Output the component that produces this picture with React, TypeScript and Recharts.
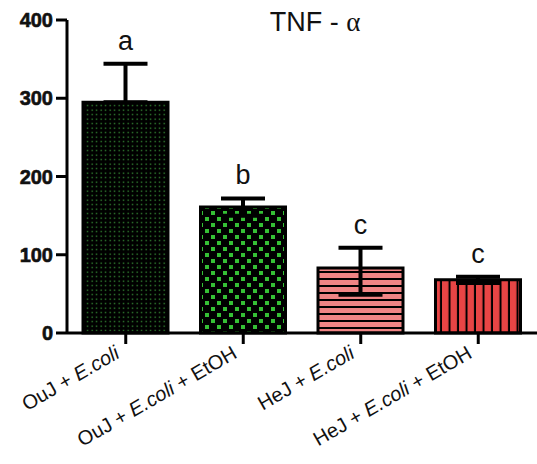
import { BarChart, Bar, XAxis, YAxis, Cell, ErrorBar, LabelList } from "recharts";

const NAMES = ["OuJ + E.coli", "OuJ + E.coli + EtOH", "HeJ + E.coli", "HeJ + E.coli + EtOH"];
const MEANS = [295, 161, 83, 68];
const ERR_LOW = [0, 11, 34, 4];
const ERR_HIGH = [49, 11, 26, 4];
const LETTERS = ["a", "b", "c", "c"];
const Y_TICKS = [0, 100, 200, 300, 400];
const FILLS = ["url(#pat-dots)", "url(#pat-checks)", "url(#pat-hlines)", "url(#pat-vlines)"];

const FONT = "'Liberation Sans', Arial, sans-serif";

const data = NAMES.map((name, i) => ({
  name,
  value: MEANS[i],
  err: [ERR_LOW[i], ERR_HIGH[i]],
}));

const XTick = (props: any) => {
  const { x, y, payload } = props;
  const parts = String(payload.value).split("E.coli");
  return (
    <g transform={`translate(${x - 5},${y + 11})`}>
      <text
        transform="rotate(-30)"
        textAnchor="end"
        fontSize={20}
        fontFamily={FONT}
        fill="#111"
      >
        <tspan>{parts[0]}</tspan>
        <tspan fontStyle="italic">E.coli</tspan>
        <tspan>{parts[1]}</tspan>
      </text>
    </g>
  );
};

const Letter = (props: any) => {
  const { x, y, width, height, value, index } = props;
  const capY = y - (ERR_HIGH[index] * height) / value;
  return (
    <text
      x={x + width / 2}
      y={capY - 14}
      textAnchor="middle"
      fontSize={27}
      fontFamily={FONT}
      fill="#111"
    >
      {LETTERS[index]}
    </text>
  );
};

export default function App() {
  return (
    <div style={{ position: "absolute", left: 0, top: 0, width: 537, height: 464, background: "#fff" }}>
      <svg width={0} height={0} style={{ position: "absolute" }}>
        <defs>
          <pattern id="pat-dots" patternUnits="userSpaceOnUse" width={4.5} height={4.5}>
            <rect width={4.5} height={4.5} fill="#000" />
            <rect x={1.5} y={1.5} width={1.3} height={1.3} fill="#3a9a3a" />
          </pattern>
          <pattern id="pat-checks" patternUnits="userSpaceOnUse" width={12} height={12}>
            <rect width={12} height={12} fill="#000" />
            <rect x={1} y={1} width={4} height={4} fill="#35c035" />
            <rect x={7} y={7} width={4} height={4} fill="#35c035" />
          </pattern>
          <pattern id="pat-hlines" patternUnits="userSpaceOnUse" width={10} height={7}>
            <rect width={10} height={7} fill="#f08585" />
            <rect y={5} width={10} height={2} fill="#000" />
          </pattern>
          <pattern id="pat-vlines" patternUnits="userSpaceOnUse" width={8.5} height={10}>
            <rect width={8.5} height={10} fill="#e84545" />
            <rect x={6.5} width={2} height={10} fill="#000" />
          </pattern>
        </defs>
      </svg>
      <div
        style={{
          position: "absolute",
          left: 315,
          top: 9,
          transform: "translateX(-50%)",
          fontFamily: FONT,
          fontSize: 27,
          lineHeight: 1,
          color: "#111",
          whiteSpace: "nowrap",
        }}
      >
        TNF - <span style={{ fontFamily: "'Liberation Serif', serif" }}>α</span>
      </div>
      <BarChart width={537} height={464} data={data} margin={{ top: 20, right: 0, bottom: 0, left: 0 }}>
        <XAxis
          dataKey="name"
          height={131}
          interval={0}
          axisLine={{ stroke: "#000", strokeWidth: 3 }}
          tickLine={{ stroke: "#000", strokeWidth: 3 }}
          tickSize={11}
          tick={<XTick />}
        />
        <YAxis
          width={67}
          domain={[0, 400]}
          ticks={Y_TICKS}
          interval={0}
          axisLine={{ stroke: "#000", strokeWidth: 3 }}
          tickLine={{ stroke: "#000", strokeWidth: 3 }}
          tickSize={11}
          tickMargin={3}
          tick={{ fontSize: 20, fontWeight: "bold", fill: "#111", stroke: "#111", strokeWidth: 0.6, fontFamily: FONT }}
        />
        <Bar dataKey="value" barSize={85} stroke="#000" strokeWidth={3} isAnimationActive={false}>
          {data.map((d, i) => (
            <Cell key={d.name} fill={FILLS[i]} />
          ))}
          <ErrorBar dataKey="err" direction="y" width={22} stroke="#000" strokeWidth={4} />
          <LabelList dataKey="value" content={<Letter />} />
        </Bar>
      </BarChart>
    </div>
  );
}
